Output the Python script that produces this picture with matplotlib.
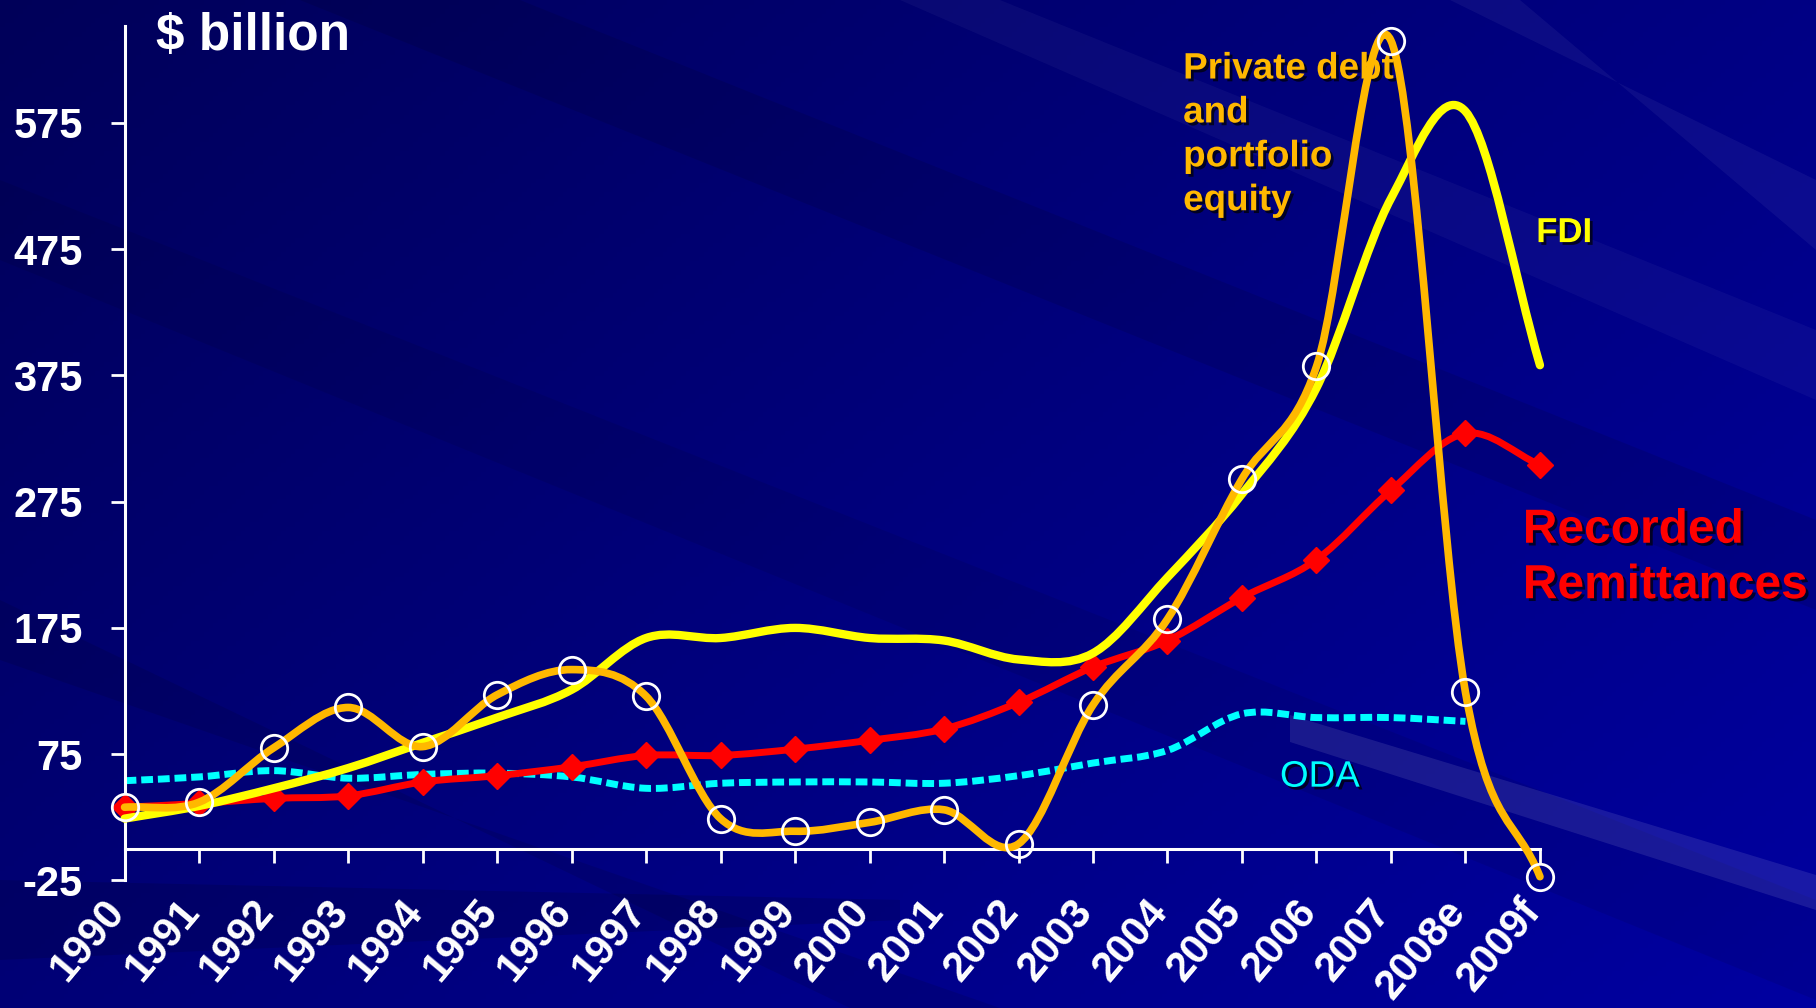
import numpy as np
import matplotlib
matplotlib.use("Agg")
import matplotlib.pyplot as plt
from matplotlib.path import Path
from matplotlib.patches import PathPatch, Polygon
from matplotlib import patheffects as pe
from matplotlib.transforms import ScaledTranslation

plt.rcParams['font.family'] = ['Liberation Sans', 'DejaVu Sans']

# data ($ billion)
years = ["1990", "1991", "1992", "1993", "1994", "1995", "1996", "1997", "1998", "1999",
         "2000", "2001", "2002", "2003", "2004", "2005", "2006", "2007", "2008e", "2009f"]
remittances = [33, 36, 40, 42, 53, 58, 65, 74, 74, 79, 86, 95, 116, 144, 165, 199, 229, 284, 329, 304]
fdi = [24, 34, 48, 64, 84, 104, 126, 167, 167, 175, 167, 165, 150, 155, 215, 281, 365, 515, 584, 383]
private_debt = [33, 37, 80, 112, 81, 122, 142, 121, 24, 14, 21, 31, 4, 114, 182, 293, 382, 640, 124, -22]
oda = [54, 57, 62, 56, 59, 60, 57, 48, 52, 53, 53, 52, 58, 68, 78, 107, 104, 104, 101]  # up to 2008e
y_ticks = [-25, 75, 175, 275, 375, 475, 575]


def smooth_path(x, y):
    # bezier curve through the points (catmull-rom tangents), like excel's smoothed lines
    x = np.asarray(x, float)
    y = np.asarray(y, float)
    slope = np.gradient(y, x)
    verts = [(x[0], y[0])]
    codes = [Path.MOVETO]
    for i in range(len(x) - 1):
        d = (x[i + 1] - x[i]) / 3
        verts += [(x[i] + d, y[i] + slope[i] * d),
                  (x[i + 1] - d, y[i + 1] - slope[i + 1] * d),
                  (x[i + 1], y[i + 1])]
        codes += [Path.CURVE4] * 3
    return Path(verts, codes)


fig = plt.figure(figsize=(18.16, 10.08), dpi=100)

# background: dark blue gradient with diagonal streaks
bg = fig.add_axes([0, 0, 1, 1], zorder=-1)
bg.set_axis_off()
gx, gy = np.meshgrid(np.linspace(0, 1, 400), np.linspace(0, 1, 220))
shade = 0.6 * gx + 0.4 * gy
img = np.zeros(gy.shape + (3,))
img[..., 2] = 0.35 + 0.28 * shade
bg.imshow(img, extent=[0, 1816, 1008, 0], aspect='auto')
bg.set_xlim(0, 1816)
bg.set_ylim(1008, 0)
streaks = [
    ([(300, 0), (520, 0), (1816, 520), (1816, 610)], 'black', 0.10),
    ([(0, 180), (0, 260), (1816, 1000), (1816, 900)], 'black', 0.08),
    ([(0, 600), (0, 660), (1000, 1008), (850, 1008)], 'black', 0.10),
    ([(900, 0), (1000, 0), (1816, 330), (1816, 400)], 'white', 0.04),
    ([(1290, 715), (1816, 875), (1816, 910), (1290, 742)], 'white', 0.10),
    ([(1450, 0), (1520, 0), (1816, 250), (1816, 180)], 'white', 0.05),
    ([(0, 880), (0, 960), (900, 920), (900, 900)], 'black', 0.12),
]
for pts, col, a in streaks:
    bg.add_patch(Polygon(pts, closed=True, facecolor=col, edgecolor='none', alpha=a))

ax = fig.add_axes([0.0686, 0.1265, 0.7794, 0.8477])
ax.patch.set_alpha(0)
x = np.arange(len(years))

# ODA dashed
ax.add_patch(PathPatch(smooth_path(x[:len(oda)], oda), fill=False, edgecolor='#00FFFF', lw=5,
                       linestyle=(0, (1.7, 0.7)), capstyle='butt', zorder=2, clip_on=False))
# remittances
ax.add_patch(PathPatch(smooth_path(x, remittances), fill=False, edgecolor='#FF0000', lw=5,
                       capstyle='round', joinstyle='round', zorder=3, clip_on=False))
ax.plot(x, remittances, linestyle='none', marker='D', ms=13, color='#FF0000', zorder=3, clip_on=False)
# FDI
ax.add_patch(PathPatch(smooth_path(x, fdi), fill=False, edgecolor='#FFFF00', lw=6,
                       capstyle='round', joinstyle='round', zorder=4, clip_on=False))
# private debt and portfolio equity
ax.add_patch(PathPatch(smooth_path(x, private_debt), fill=False, edgecolor='#FFB800', lw=5.5,
                       capstyle='round', joinstyle='round', zorder=5, clip_on=False))
ax.plot(x, private_debt, linestyle='none', marker='o', ms=19, mfc='none', mec='white', mew=2,
        zorder=6, clip_on=False)

ax.set_xlim(0, 19)
ax.set_ylim(-25, 651.6)
for s in ['top', 'right']:
    ax.spines[s].set_visible(False)
ax.spines['bottom'].set_position(('data', 0))
for s in ['left', 'bottom']:
    ax.spines[s].set_color('white')
    ax.spines[s].set_linewidth(2.2)

ax.set_yticks(y_ticks)
ax.set_yticklabels([str(v) for v in y_ticks], fontsize=30, fontweight='bold', color='white')
ax.set_xticks(x)
ax.set_xticklabels(years, fontsize=30, fontweight='bold', color='white', rotation=50,
                   ha='right', va='top')
ax.tick_params(axis='y', direction='out', length=10, width=2, colors='white', pad=20)
ax.tick_params(axis='x', direction='out', length=10, width=2, colors='white', pad=19)
nudge = ScaledTranslation(6 / 72, -2 / 72, fig.dpi_scale_trans)
for lab in ax.get_xticklabels():
    lab.set_transform(lab.get_transform() + nudge)

shadow = [pe.withSimplePatchShadow(offset=(2, -2), shadow_rgbFace='black', alpha=0.7)]
fig.text(0.0859, 0.950, "$ billion", fontsize=37, fontweight='bold', color='white',
         ha='left', va='baseline')
# multi-line texts: y is the baseline of the last line
ax.text(14.21, 505.7, "Private debt\nand\nportfolio\nequity", fontsize=26.5, fontweight='bold',
        color='#FFB800', ha='left', va='baseline', linespacing=1.33, path_effects=shadow)
ax.text(18.95, 480.5, "FDI", fontsize=25, fontweight='bold', color='#FFFF00',
        ha='left', va='baseline', path_effects=shadow)
ax.text(18.77, 198.5, "Recorded\nRemittances", fontsize=34.5, fontweight='bold', color='#FF0000',
        ha='left', va='baseline', linespacing=1.3, path_effects=shadow, clip_on=False)
ax.text(15.51, 49.3, "ODA", fontsize=26.5, color='#00FFFF', ha='left', va='baseline',
        path_effects=shadow)

fig.savefig("out.png", dpi=100)
